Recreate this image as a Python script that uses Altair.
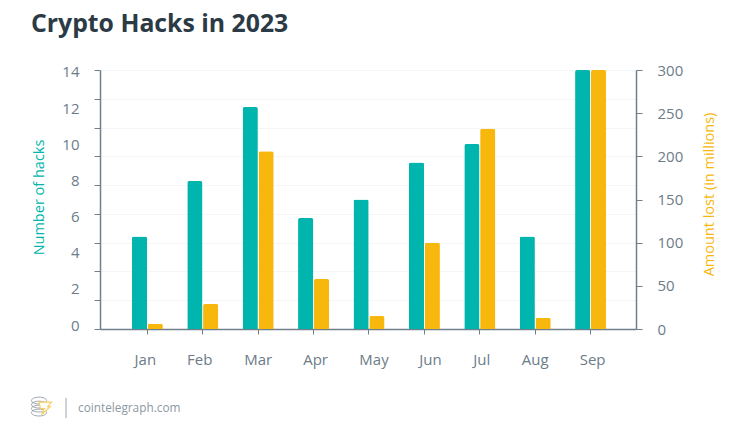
import altair as alt
import pandas as pd

months = ["Jan", "Feb", "Mar", "Apr", "May", "Jun", "Jul", "Aug", "Sep"]
hacks = [5, 8, 12, 6, 7, 9, 10, 5, 14]
lost = [6, 29, 206, 58, 15, 100, 232, 13, 300]
hack_ticks = [14 * i / 9 for i in range(10)]
hack_labels = [0, 2, 4, 6, 8, 10, 12, 14]
lost_ticks = [0, 50, 100, 150, 200, 250, 300]
label_shift = {"Jan": -2, "Feb": -3, "Mar": 0, "Apr": 2, "May": 5, "Jun": 6, "Jul": 2, "Aug": 0, "Sep": 2}

TEAL = "#00b5ad"
YELLOW = "#f7b70c"
AXIS = "#6f7f8c"
LABEL = "#6c7c89"
GRID = "#f3f5f6"
FONT = "Open Sans"

df = pd.DataFrame({"month": months, "hacks": hacks, "lost": lost})
long = pd.concat([
    df.assign(series="hacks", value=df.hacks),
    df.assign(series="lost", value=df.lost),
])

cond = [{"test": f"datum.value === '{m}'", "value": s} for m, s in label_shift.items()]

x = alt.X(
    "month:N",
    sort=months,
    title=None,
    scale=alt.Scale(paddingInner=0.44, paddingOuter=0.557, align=0.516),
    axis=alt.Axis(
        labelAngle=0, labelFont=FONT, labelFontSize=15, labelColor=LABEL, labelPadding=18,
        tickColor=AXIS, tickSize=5, domainColor=AXIS, domainWidth=1.5, grid=False,
        labelOffset=alt.ConditionalAxisNumber(condition=cond, value=0),
    ),
)
x_off = alt.XOffset("series:N", sort=["hacks", "lost"], scale=alt.Scale(paddingInner=0.04))
corner = dict(cornerRadiusTopLeft=2, cornerRadiusTopRight=2)

bars_hacks = (
    alt.Chart(long).transform_filter("datum.series === 'hacks'").mark_bar(color=TEAL, **corner)
    .encode(
        x=x, xOffset=x_off,
        y=alt.Y("value:Q", scale=alt.Scale(domain=[0, 14], nice=False),
                axis=alt.Axis(orient="left", values=hack_ticks, labels=False, grid=True, gridColor=GRID,
                              tickColor=AXIS, tickSize=6, domainColor=AXIS, domainWidth=1.5,
                              title="Number of hacks", titleColor=TEAL, titleFont=FONT, titleFontSize=14.5,
                              titleFontWeight="normal", titleAngle=-90, titleX=-54, titleY=127)),
    )
)
label_df = pd.DataFrame({"label": hack_labels})
left_labels = (
    alt.Chart(label_df).mark_rule(opacity=0)
    .encode(
        y=alt.Y("label:Q", scale=alt.Scale(domain=[-0.22, 14.11], nice=False),
                axis=alt.Axis(orient="left", values=hack_labels, title=None, grid=False, domain=False,
                              ticks=False, labelPadding=21, labelFont=FONT, labelFontSize=15,
                              labelColor=LABEL, format="d")),
    )
)
bars_lost = (
    alt.Chart(long).transform_filter("datum.series === 'lost'").mark_bar(color=YELLOW, **corner)
    .encode(
        x=x, xOffset=x_off,
        y=alt.Y("value:Q", scale=alt.Scale(domain=[0, 300], nice=False),
                axis=alt.Axis(orient="right", values=lost_ticks, grid=False, tickColor=AXIS, tickSize=6,
                              domainColor=AXIS, domainWidth=1.5, labelPadding=15, labelFont=FONT,
                              labelFontSize=15, labelColor=LABEL, title="Amount lost (in millions)",
                              titleColor=YELLOW, titleFont=FONT, titleFontSize=14.5, titleFontWeight="normal",
                              titleAngle=-90, titleX=80, titleY=124)),
    )
)

one = alt.Data(values=[{}])
footer_text = alt.Chart(one).mark_text(
    text="cointelegraph.com", font=FONT, fontSize=11.8, color="#8c99a3", align="left", baseline="alphabetic"
).encode(x=alt.value(-22), y=alt.value(342))
divider = alt.Chart(one).mark_rule(color="#9aa5ad", strokeWidth=1).encode(
    x=alt.value(-34), y=alt.value(328), y2=alt.value(348))

COIN = "M-1,-0.45 A1,0.45 0 1 1 1,-0.45 A1,0.45 0 1 1 -1,-0.45 Z"
BOLT = "M-0.9,-0.9 L1,-0.9 L0.4,-0.2 L0.8,-0.2 L-0.5,1 L-0.1,0.1 L-0.7,0.1 Z"
coins = alt.layer(*[
    alt.Chart(one).mark_point(shape=COIN, size=230, color="#76838e", strokeWidth=1, filled=False)
    .encode(x=alt.value(-61), y=alt.value(yy))
    for yy in (334, 338, 342, 346)
])
bolt = alt.Chart(one).mark_point(shape=BOLT, size=170, stroke="#f9cf63", fill="white", fillOpacity=1, strokeWidth=1.2).encode(
    x=alt.value(-55), y=alt.value(338))

chart = (
    alt.layer(bars_hacks, left_labels, bars_lost, footer_text, divider, coins, bolt)
    .resolve_scale(y="independent")
    .properties(
        width=536, height=259,
        padding={"left": 92, "top": 62, "right": 106, "bottom": 93},
        autosize=alt.AutoSizeParams(type="none"),
        title=alt.TitleParams("Crypto Hacks in 2023", anchor="start", frame="group", dx=-69, offset=0, dy=-6,
                              baseline="alphabetic", font=FONT, fontSize=24.8, fontWeight=700, color="#2b3a44"),
    )
    .configure_view(stroke=None)
)
chart.save("out.html", embed_options={"renderer": "svg", "actions": False})
